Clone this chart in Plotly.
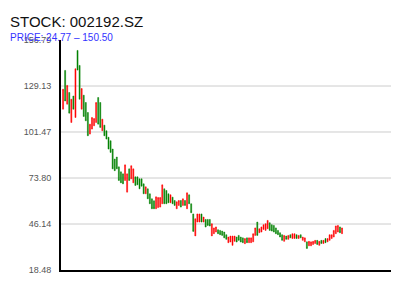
import plotly.graph_objects as go

# Candle extents (price units); up = 1 -> red (rising), 0 -> green (falling)
highs = [127.2, 138.5, 129.5, 125.2, 121.2, 123.1, 139.5, 150.5, 141.5, 127.6,
         123.6, 119.2, 113.2, 106.2, 110.2, 109.6, 119.2, 122.2, 119.2, 109.2,
         105.6, 102.2, 98.3, 96.2, 91.2, 85.2, 86.4, 80.5, 77.5, 76.3,
         81.7, 76.3, 79.3, 81.2, 79.3, 74.5, 74.5, 73.3, 73.3, 70.3,
         68.5, 67.3, 64.3, 61.3, 60.1, 62.5, 62.1, 62.1, 69.7, 67.3,
         66.3, 64.3, 63.7, 62.3, 60.3, 59.5, 60.3, 60.3, 61.3, 60.3,
         64.9, 63.7, 58.3, 52.2, 49.3, 52.2, 52.2, 52.2, 50.3, 48.9,
         48.9, 48.9, 46.3, 43.8, 44.4, 42.7, 42.3, 41.9, 41.3, 39.7,
         38.3, 38.9, 38.9, 38.9, 38.3, 39.3, 38.3, 37.8, 37.4, 37.8,
         37.8, 37.8, 40.3, 43.8, 47.3, 43.3, 44.4, 45.7, 46.3, 48.3,
         46.9, 45.7, 45.3, 43.8, 42.3, 40.9, 39.7, 39.3, 38.9, 39.3,
         39.7, 40.3, 40.3, 39.7, 39.3, 39.7, 38.3, 37.8, 35.4, 35.7,
         35.4, 35.7, 36.3, 36.3, 35.7, 36.3, 36.3, 37.4, 37.4, 39.7,
         39.7, 42.3, 45.0, 45.3, 44.4, 43.8]
lows = [115.2, 120.1, 118.2, 112.8, 107.2, 115.2, 110.2, 138.7, 121.2, 115.2,
        110.8, 108.2, 99.2, 100.2, 103.2, 105.2, 107.2, 106.2, 104.2, 102.2,
        99.2, 97.2, 91.2, 89.2, 79.3, 78.2, 79.3, 72.3, 70.9, 70.3,
        72.3, 65.3, 72.3, 73.3, 70.9, 69.3, 69.7, 67.3, 68.9, 64.3,
        64.3, 61.3, 58.3, 55.3, 55.3, 55.3, 56.0, 56.3, 58.3, 58.3,
        58.3, 58.9, 58.9, 58.3, 57.3, 55.3, 57.3, 56.3, 57.3, 57.3,
        55.3, 58.3, 52.9, 41.7, 39.0, 47.3, 47.3, 47.3, 47.3, 44.3,
        45.3, 44.9, 39.0, 40.3, 41.3, 40.3, 39.7, 39.3, 37.8, 36.9,
        34.9, 35.3, 33.3, 35.7, 35.3, 36.3, 35.3, 34.9, 34.3, 34.9,
        34.9, 34.9, 35.4, 39.3, 39.3, 40.9, 41.3, 42.9, 42.3, 43.3,
        42.3, 41.9, 41.3, 40.3, 39.7, 38.3, 36.3, 35.7, 36.9, 36.9,
        37.8, 37.4, 37.4, 37.4, 37.4, 37.8, 36.3, 35.4, 31.4, 33.0,
        33.0, 33.8, 34.4, 33.8, 33.3, 34.4, 34.4, 34.9, 35.4, 36.3,
        37.4, 38.3, 40.3, 41.3, 40.9, 40.3]
up = [1, 0, 1, 0, 1, 0, 1, 0, 0, 1,
      0, 0, 0, 1, 1, 1, 1, 0, 0, 1,
      0, 0, 0, 0, 0, 0, 0, 0, 0, 0,
      1, 1, 0, 1, 1, 0, 0, 0, 0, 0,
      1, 0, 0, 0, 0, 1, 1, 1, 1, 0,
      0, 0, 1, 0, 0, 1, 1, 0, 1, 0,
      1, 0, 0, 0, 1, 1, 1, 0, 1, 0,
      0, 0, 1, 1, 1, 0, 0, 0, 0, 0,
      1, 1, 1, 1, 0, 0, 0, 0, 1, 0,
      1, 1, 1, 1, 0, 1, 1, 1, 1, 1,
      0, 0, 0, 0, 0, 0, 0, 1, 0, 1,
      0, 1, 1, 0, 1, 0, 1, 1, 0, 1,
      1, 1, 1, 0, 1, 0, 1, 0, 1, 1,
      1, 1, 1, 1, 0, 1]

y_ticks = [18.48, 46.14, 73.80, 101.47, 129.13, 156.79]
title_text = "STOCK: 002192.SZ"
subtitle_text = "PRICE: 24.77 \u2013 150.50"

opens = [l if u else h for h, l, u in zip(highs, lows, up)]
closes = [h if u else l for h, l, u in zip(highs, lows, up)]
xs = list(range(len(highs)))

fig = go.Figure(go.Candlestick(
    x=xs, open=opens, high=highs, low=lows, close=closes,
    increasing=dict(line=dict(color="#ff0000", width=0.5), fillcolor="#ff0000"),
    decreasing=dict(line=dict(color="#008000", width=0.5), fillcolor="#008000"),
    whiskerwidth=0, showlegend=False, hoverinfo="skip",
))

for v in y_ticks[1:-1]:
    fig.add_shape(type="line", xref="paper", x0=0, x1=1, yref="y", y0=v, y1=v,
                  line=dict(color="#cccccc", width=1), layer="below")

fig.update_layout(
    width=400, height=300,
    margin=dict(l=61, r=9, t=40, b=30),
    paper_bgcolor="white", plot_bgcolor="white",
    font=dict(family="Liberation Sans, Arial, sans-serif"),
    xaxis=dict(range=[-1, 158.7], showgrid=False, zeroline=False,
               showticklabels=False, showline=True, linecolor="black",
               linewidth=2, rangeslider=dict(visible=False), fixedrange=True),
    yaxis=dict(range=[y_ticks[0], y_ticks[-1]], tickvals=y_ticks,
               ticktext=[f"{v:.2f}" for v in y_ticks], showgrid=False,
               zeroline=False, showline=True, linecolor="black", linewidth=2,
               ticks="", ticklabelstandoff=6,
               tickfont=dict(size=9, color="#555555"), fixedrange=True),
    annotations=[
        dict(text=title_text, xref="paper", yref="paper", x=-53/330, y=(270-21)/230,
             xanchor="left", yanchor="middle", showarrow=False,
             font=dict(size=15, color="#111111")),
        dict(text=subtitle_text, xref="paper", yref="paper", x=-53/330, y=(270-37)/230,
             xanchor="left", yanchor="middle", showarrow=False,
             font=dict(size=10, color="#3333ff")),
    ],
)

fig.write_html("out.html")
